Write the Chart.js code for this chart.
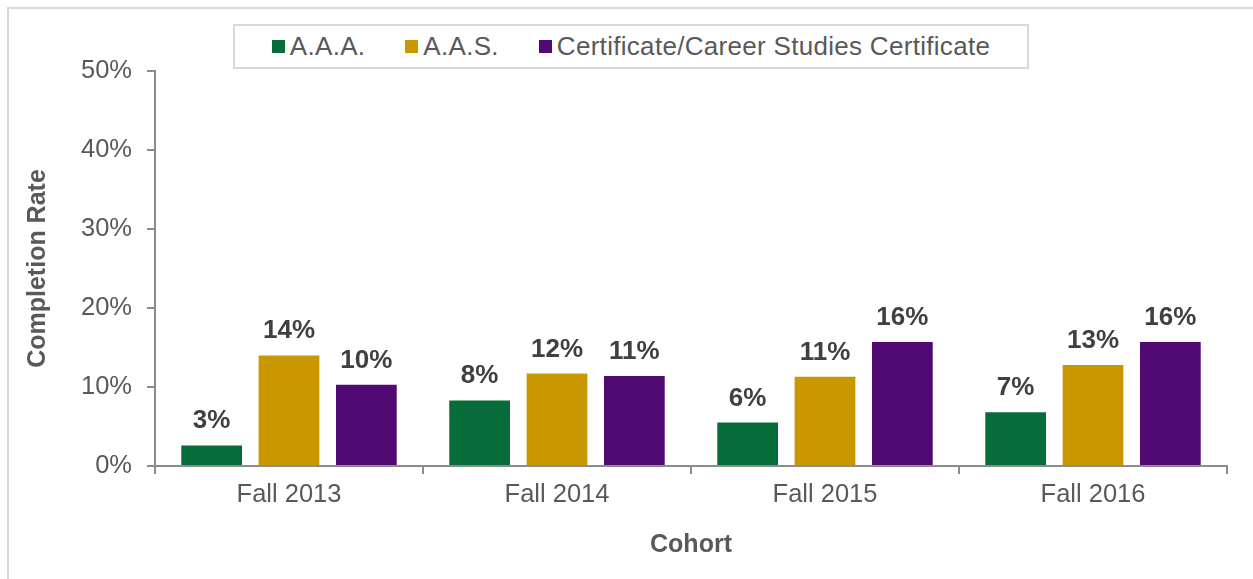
<!DOCTYPE html>
<html>
<head>
<meta charset="utf-8">
<script src="https://cdn.jsdelivr.net/npm/chart.js@4/dist/chart.umd.min.js"></script>
<style>
    body { margin: 0; width: 1253px; height: 579px; overflow: hidden; background: #fff; font-family: Arial, "Liberation Sans", sans-serif; }
    #frame { position: absolute; left: 7px; top: 7px; width: 1400px; height: 800px; border: 2px solid #d9d9d9; }
    #wrap { position: absolute; left: 0; top: 0; width: 1253px; height: 579px; }
    #legend { position: absolute; left: 233px; top: 24px; width: 792px; height: 41px; border: 2px solid #d9d9d9; background: #fff;
        display: flex; justify-content: center; align-items: center; gap: 40px; font-size: 26px; letter-spacing: 0.3px; color: #595959; }
    #legend .item { display: flex; align-items: center; }
    #legend .sw { width: 13px; height: 13px; margin-right: 5px; }
</style>
</head>
<body>
<div id="frame"></div>
<div id="wrap"><canvas id="rateChart"></canvas></div>
<div id="legend"></div>
<script>
// completion rate by award type, values in percent
const cohorts = ['Fall 2013', 'Fall 2014', 'Fall 2015', 'Fall 2016'];
const aaa = [2.6, 8.3, 5.5, 6.8];
const aas = [14.0, 11.7, 11.3, 12.8];
const cert = [10.3, 11.4, 15.7, 15.7];
const seriesNames = ['A.A.A.', 'A.A.S.', 'Certificate/Career Studies Certificate'];
const seriesColors = ['#066c39', '#c99700', '#510a74'];
const yMax = 50;
const yStep = 10;

const axisGray = '#8c8c8c';
const textGray = '#595959';

// legend in a bordered box, like the original
const legendEl = document.getElementById('legend');
seriesNames.forEach((name, i) => {
    legendEl.insertAdjacentHTML('beforeend',
        `<div class="item"><div class="sw" style="background:${seriesColors[i]}"></div><span>${name}</span></div>`);
});

// value labels above each bar
const barLabels = {
    id: 'barLabels',
    afterDatasetsDraw(chart) {
        const ctx = chart.ctx;
        ctx.save();
        ctx.font = 'bold 26px Arial';
        ctx.fillStyle = '#404040';
        ctx.textAlign = 'center';
        ctx.textBaseline = 'alphabetic';
        chart.data.datasets.forEach((ds, i) => {
            chart.getDatasetMeta(i).data.forEach((bar, j) => {
                ctx.fillText(Math.round(ds.data[j]) + '%', bar.x, bar.y - 17);
            });
        });
        ctx.restore();
    }
};

const allSeries = [aaa, aas, cert];

new Chart(document.getElementById('rateChart').getContext('2d'), {
    type: 'bar',
    data: {
        labels: cohorts,
        datasets: allSeries.map((vals, i) => ({
            label: seriesNames[i],
            data: vals,
            backgroundColor: seriesColors[i],
            borderWidth: 0,
            categoryPercentage: 0.866,
            barPercentage: 0.785
        }))
    },
    options: {
        responsive: true,
        maintainAspectRatio: false,
        animation: false,
        layout: { padding: { left: 8, right: 26, top: 71, bottom: 13 } },
        plugins: {
            legend: { display: false },
            title: { display: false },
            tooltip: { enabled: false }
        },
        scales: {
            x: {
                grid: { drawOnChartArea: false, drawTicks: true, tickLength: 8, color: axisGray, lineWidth: 2 },
                border: { color: axisGray, width: 2 },
                ticks: { font: { family: 'Arial', size: 25.5 }, color: textGray, padding: 6 },
                title: {
                    display: true,
                    text: 'Cohort',
                    font: { family: 'Arial', size: 25, weight: 'bold' },
                    color: textGray,
                    padding: { top: 0, bottom: 6 }
                },
                afterFit: (scale) => { scale.height = 100; }
            },
            y: {
                min: 0,
                max: yMax,
                grid: { drawOnChartArea: false, drawTicks: true, tickLength: 8, color: axisGray, lineWidth: 2 },
                border: { color: axisGray, width: 2 },
                ticks: {
                    stepSize: yStep,
                    font: { family: 'Arial', size: 25.5 },
                    color: textGray,
                    padding: 15,
                    callback: (v) => v + '%'
                },
                title: {
                    display: true,
                    text: 'Completion Rate',
                    font: { family: 'Arial', size: 25, weight: 'bold' },
                    color: textGray,
                    padding: { top: 15, bottom: 0 }
                },
                afterFit: (scale) => { scale.width = 147; }
            }
        }
    },
    plugins: [barLabels]
});
</script>
</body>
</html>
